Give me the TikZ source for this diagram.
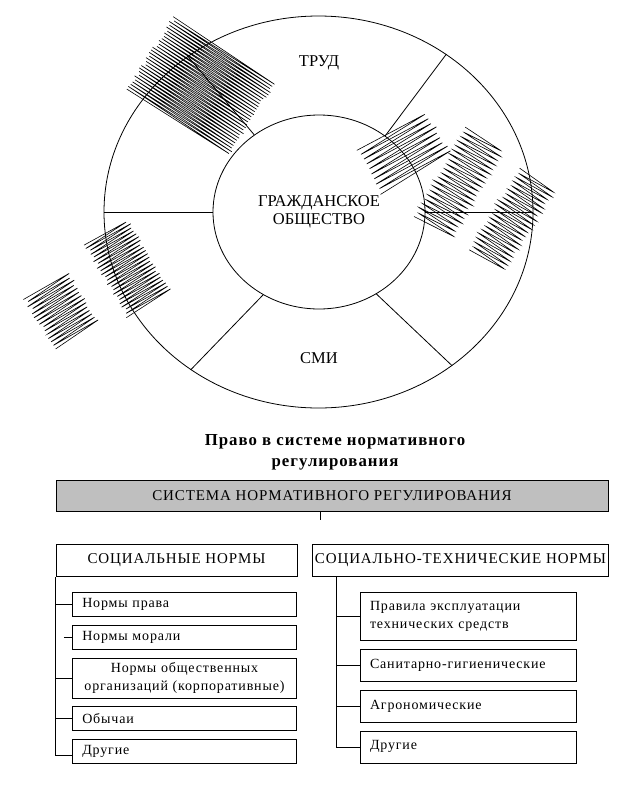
\documentclass[tikz,border=0pt]{standalone}
\usepackage{fontspec}
\setmainfont{Liberation Serif}
\newfontfamily\spacedfont{Liberation Serif}[LetterSpace=6]
\usepackage{tikz}
\usetikzlibrary{shapes.geometric, positioning}
\newcommand{\ringfont}{\fontsize{16.5}{18.5}\selectfont}
\newcommand{\headfont}{\spacedfont\fontsize{15}{18}\selectfont}
\newcommand{\itemfont}{\spacedfont\fontsize{14}{17.7}\selectfont}
\newcommand{\titlefont}{\spacedfont\bfseries\fontsize{16.8}{21}\selectfont}
\tikzstyle{ringpart} = [ellipse, inner sep=0pt, draw=black]
\tikzstyle{sysbox} = [rectangle, minimum width=552pt, minimum height=31pt, text centered, draw=black, fill=black!25, font=\headfont]
\tikzstyle{normbox} = [rectangle, minimum height=32.7pt, inner xsep=2pt, text centered, draw=black, font=\headfont]
\tikzstyle{itembox} = [rectangle, minimum height=24pt, inner xsep=10pt, align=left, draw=black, font=\itemfont]
\tikzstyle{scrib} = [line width=0.6pt, rounded corners=2pt]
% center, angle, stroke length, block width, strokes
\newcommand{\scribble}[5]{%
  \begin{scope}[shift={#1}, rotate=#2]
    \draw [scrib] ({-#3/2},{-#4/2}) \foreach \k in {1,...,#5}{
      -- ({#3/2+2*rand},{-#4/2+(\k-0.5)*#4/#5}) -- ({-#3/2+2*rand},{-#4/2+\k*#4/#5})};
  \end{scope}}

\begin{document}
\begin{tikzpicture}[x=1pt, y=-1pt, line width=0.8pt]
        \useasboundingbox (0,0) rectangle (641,793);
        \pgfmathsetseed{12}
        % Ring
        \node (ring) [ringpart, minimum width=429pt, minimum height=392pt] at (318.5,212) {};
        \node (society) [ringpart, minimum width=212pt, minimum height=194pt, align=center, font=\ringfont] at (319,212) {ГРАЖДАНСКОЕ\\ОБЩЕСТВО};
        \node (labour) [font=\ringfont] at (319,63) {ТРУД};
        \node (media) [font=\ringfont] at (319,358) {СМИ};
        
        \draw (ring.180) -- (society.180);
        \draw (ring.0) -- (society.0);
        \draw (ring.51) -- (society.49);
        \draw (ring.130) -- (society.130);
        \draw (ring.-129) -- (society.-124);
        \draw (ring.-49) -- (society.-55);
        
        % Scribbled labels
        \scribble{(201,86)}{-33}{122}{86}{28}
        \scribble{(404,152)}{30}{80}{50}{9}
        \scribble{(459,183)}{-30}{45}{103}{20}
        \scribble{(512,220)}{-32}{42}{96}{20}
        \scribble{(127.5,268)}{31}{51}{84}{22}
        \scribble{(61.5,310.5)}{32}{53}{59}{14}
        
        % Nodes
        \node (title) [font=\titlefont, align=center] at (335,452) {Право в системе нормативного\\регулирования};
        \node (system) [sysbox] at (332,496) {СИСТЕМА НОРМАТИВНОГО РЕГУЛИРОВАНИЯ};
        \node (social) [normbox, minimum width=241pt] at (176.5,560.3) {СОЦИАЛЬНЫЕ НОРМЫ};
        \node (technical) [normbox, minimum width=295.6pt] at (460.5,560.3) {СОЦИАЛЬНО-ТЕХНИЧЕСКИЕ НОРМЫ};
        
        \node (lawnorm) [itembox, text width=204.4pt] at (184.5,604.3) {Нормы права};
        \node (moral) [itembox, text width=204.4pt, below=8pt of lawnorm] {Нормы морали};
        \node (corporate) [itembox, text width=204.4pt, align=center, minimum height=40pt, below=8pt of moral] {Нормы общественных\\организаций (корпоративные)};
        \node (custom) [itembox, text width=204.4pt, below=8pt of corporate] {Обычаи};
        \node (otherleft) [itembox, text width=204.4pt, below=8pt of custom] {Другие};
        
        \node (exploit) [itembox, text width=196pt, minimum height=48pt] at (468,616.5) {Правила эксплуатации\\технических средств};
        \node (sanitary) [itembox, text width=196pt, minimum height=32pt, below=8pt of exploit] {Санитарно-гигиенические};
        \node (agro) [itembox, text width=196pt, minimum height=32pt, below=8pt of sanitary] {Агрономические};
        \node (otherright) [itembox, text width=196pt, minimum height=32pt, below=8pt of agro] {Другие};
        
        % Lines
        \coordinate (stub) at (320.7,520);
        \draw (system.south -| stub) -- (stub);
        
        \draw (social.south west) |- ([yshift=-4pt]otherleft.west);
        \draw (social.south west |- lawnorm.west) -- (lawnorm.west);
        \draw ([xshift=-8pt]moral.west) -- (moral.west);
        \draw (social.south west |- corporate.west) -- (corporate.west);
        \draw (social.south west |- custom.west) -- (custom.west);
        
        \coordinate (trunk) at ([xshift=24pt]technical.south west);
        \draw (trunk) |- (otherright.west);
        \draw (trunk |- exploit.west) -- (exploit.west);
        \draw (trunk |- sanitary.west) -- (sanitary.west);
        \draw (trunk |- agro.west) -- (agro.west);
    \end{tikzpicture}
\end{document}
